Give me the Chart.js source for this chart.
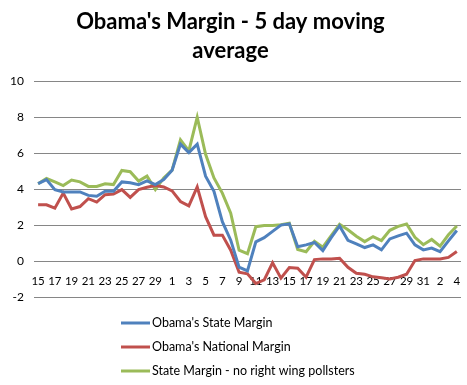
<!DOCTYPE html>
<html>
<head>
<meta charset="utf-8">
<script src="https://cdn.jsdelivr.net/npm/chart.js@4.4.1/dist/chart.umd.min.js"></script>
<style>
  body { margin: 0; background: #fff; }
</style>
</head>
<body>
<canvas id="chart" width="467" height="385"></canvas>
<script>
// Sep 15 - Nov 4
const days = [
  "15", "16", "17", "18", "19", "20", "21", "22", "23", "24", "25", "26", "27", "28", "29", "30",
  "1", "2", "3", "4", "5", "6", "7", "8", "9", "10", "11", "12", "13", "14", "15", "16",
  "17", "18", "19", "20", "21", "22", "23", "24", "25", "26", "27", "28", "29", "30", "31",
  "1", "2", "3", "4",
];

const stateMargin = [
  4.3, 4.53, 3.97, 3.84, 3.84, 3.84, 3.65, 3.6, 3.88, 3.88, 4.4, 4.35, 4.25, 4.46, 4.25, 4.53,
  5.05, 6.5, 6.03, 6.5, 4.72, 3.88, 2.19, 1.16, -0.34, -0.55, 1.07, 1.3, 1.65, 2.0, 2.07, 0.8,
  0.9, 1.03, 0.58, 1.3, 1.95, 1.15, 0.95, 0.75, 0.9, 0.62, 1.23, 1.4, 1.55, 0.9, 0.62,
  0.72, 0.52, 1.12, 1.7,
];

const nationalMargin = [
  3.13, 3.13, 2.94, 3.78, 2.9, 3.03, 3.47, 3.28, 3.69, 3.72, 3.97, 3.54, 3.97, 4.1, 4.2, 4.12,
  3.9, 3.31, 3.07, 4.12, 2.47, 1.44, 1.44, 0.6, -0.62, -0.71, -1.25, -1.05, -0.1, -0.95, -0.36, -0.4,
  -0.9, 0.08, 0.12, 0.12, 0.15, -0.35, -0.68, -0.74, -0.88, -0.93, -1.0, -0.9, -0.73, 0.03, 0.12,
  0.12, 0.12, 0.2, 0.53,
];

const noRightWing = [
  4.3, 4.59, 4.4, 4.2, 4.5, 4.4, 4.15, 4.15, 4.3, 4.25, 5.04, 4.97, 4.45, 4.72, 3.97, 4.62,
  5.05, 6.74, 6.12, 8.0, 5.94, 4.62, 3.78, 2.66, 0.6, 0.41, 1.91, 1.98, 1.98, 2.02, 2.1, 0.64,
  0.52, 1.1, 0.77, 1.41, 2.04, 1.74, 1.38, 1.08, 1.36, 1.14, 1.71, 1.93, 2.06, 1.32, 0.91,
  1.2, 0.83, 1.46, 1.95,
];

Chart.defaults.font.family = "Lato";
Chart.defaults.color = "#000";

// legenda em coluna, embaixo do grafico
const legendaColuna = {
  id: "legendaColuna",
  afterDraw(chart) {
    const ctx = chart.ctx;
    ctx.save();
    ctx.font = "12.5px Lato";
    ctx.textBaseline = "middle";
    chart.data.datasets.forEach((ds, i) => {
      const y = 323 + i * 24;
      ctx.strokeStyle = ds.borderColor;
      ctx.lineWidth = 3;
      ctx.beginPath();
      ctx.moveTo(121, y);
      ctx.lineTo(150, y);
      ctx.stroke();
      ctx.fillStyle = "#000";
      ctx.fillText(ds.label, 152, y);
    });
    ctx.restore();
  },
};

new Chart(document.getElementById("chart"), {
  type: "line",
  data: {
    labels: days,
    datasets: [
      {
        label: "Obama's State Margin",
        data: stateMargin,
        borderColor: "#4f81bd",
        borderWidth: 3,
        pointRadius: 0,
      },
      {
        label: "Obama's National Margin",
        data: nationalMargin,
        borderColor: "#c0504d",
        borderWidth: 3,
        pointRadius: 0,
      },
      {
        label: "State Margin - no right wing pollsters",
        data: noRightWing,
        borderColor: "#9bbb59",
        borderWidth: 3,
        pointRadius: 0,
      },
    ],
  },
  options: {
    responsive: false,
    animation: false,
    layout: {
      padding: { left: 0, right: 6, top: 0, bottom: 88 },
    },
    plugins: {
      legend: { display: false },
      tooltip: { enabled: false },
      title: {
        display: true,
        text: ["Obama's Margin - 5 day moving", "average"],
        font: { size: 22, weight: "bold", lineHeight: 1.3 },
        padding: { top: 8, bottom: 16 },
        color: "#000",
      },
    },
    scales: {
      x: {
        position: { y: 0 },
        offset: true,
        grid: { display: false },
        border: { display: false },
        ticks: {
          autoSkip: false,
          maxRotation: 0,
          font: { size: 11.5 },
          padding: 5,
          callback: (val, i) => (i % 2 === 0 ? days[i] : ""),
        },
      },
      y: {
        min: -2,
        max: 10,
        grid: { color: "#868686", drawTicks: false },
        border: { display: false },
        ticks: {
          stepSize: 2,
          padding: 10,
          font: { size: 12 },
        },
      },
    },
  },
  plugins: [legendaColuna],
});
</script>
</body>
</html>
